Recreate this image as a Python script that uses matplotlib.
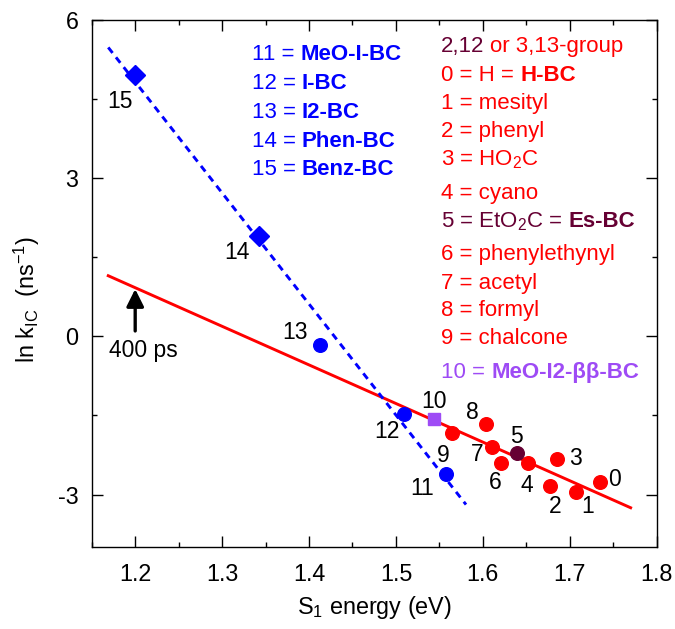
import numpy as np
import matplotlib
matplotlib.use("Agg")
import matplotlib.pyplot as plt
from matplotlib.ticker import MultipleLocator
from matplotlib.transforms import IdentityTransform

plt.rcParams['font.family'] = ['Liberation Sans', 'DejaVu Sans']
plt.rcParams['mathtext.fontset'] = 'custom'
plt.rcParams['mathtext.rm'] = 'Liberation Sans'
plt.rcParams['mathtext.it'] = 'Liberation Sans:italic'
plt.rcParams['mathtext.bf'] = 'Liberation Sans:bold'
plt.rcParams['axes.unicode_minus'] = False

# red group (0-9, 5 is dark)
red_ids = ['0', '1', '2', '3', '4', '6', '7', '8', '9']
red_x = [1.735, 1.707, 1.677, 1.685, 1.652, 1.621, 1.611, 1.6035, 1.5645]
red_y = [-2.77, -2.95, -2.84, -2.32, -2.41, -2.40, -2.09, -1.67, -1.84]
es_x, es_y = [1.639], [-2.21]
meo_x, meo_y = [1.544], [-1.576]
# blue group
blue_ids = ['11', '12', '13']
blue_x = [1.5575, 1.509, 1.4125]
blue_y = [-2.61, -1.475, -0.17]
dia_ids = ['14', '15']
dia_x = [1.343, 1.2]
dia_y = [1.90, 4.96]

# fitted lines (end points)
red_fit_x = [1.169, 1.770]
red_fit_y = [1.15, -3.25]
blue_fit_x = [1.169, 1.5806]
blue_fit_y = [5.48, -3.19]

# point labels
lab_txt = ['0', '1', '2', '3', '4', '5', '6', '7', '8', '9', '10', '11', '12', '13', '14', '15']
lab_x = [1.752, 1.721, 1.683, 1.706, 1.650, 1.639, 1.614, 1.593, 1.5875, 1.5545, 1.544,
         1.5296, 1.490, 1.384, 1.3167, 1.183]
lab_y = [-2.71, -3.22, -3.22, -2.32, -2.83, -1.89, -2.77, -2.24, -1.44, -2.26, -1.23,
         -2.89, -1.80, 0.08, 1.59, 4.45]

RED = '#ff0000'
BLUE = '#0000ff'
DARK = '#660033'
PURP = '#9e4bf5'

fig = plt.figure(figsize=(6.75, 6.29), dpi=100)
ax = fig.add_axes([0.1359, 0.1299, 0.9729 - 0.1359, 0.9682 - 0.1299])

ax.plot(red_fit_x, red_fit_y, color=RED, lw=2.1, zorder=2)
ax.plot(blue_fit_x, blue_fit_y, color=BLUE, lw=2.1, linestyle=(0, (2.4, 1.9)), zorder=2)

ax.plot(red_x, red_y, 'o', color=RED, ms=9.8, zorder=3)
ax.plot(es_x, es_y, 'o', color=DARK, ms=9.8, zorder=3)
ax.plot(meo_x, meo_y, 's', color=PURP, ms=8.6, zorder=3)
ax.plot(blue_x, blue_y, 'o', color=BLUE, ms=9.8, zorder=3)
ax.plot(dia_x, dia_y, 'D', color=BLUE, ms=10, zorder=3)

for t, x, y in zip(lab_txt, lab_x, lab_y):
    ax.text(x, y, t, fontsize=16.5, ha='center', va='center', color='black')

# 400 ps arrow
ax.annotate('', xy=(1.2, 0.95), xytext=(1.2, 0.05),
            arrowprops=dict(arrowstyle='-|>', color='black', lw=2.4, mutation_scale=26))
ax.text(1.209, -0.27, '400 ps', fontsize=16.5, ha='center', va='center')

ax.set_xlim(1.15, 1.8)
ax.set_ylim(-4, 6)
ax.xaxis.set_major_locator(MultipleLocator(0.1))
ax.xaxis.set_minor_locator(MultipleLocator(0.05))
ax.yaxis.set_major_locator(MultipleLocator(3))
ax.yaxis.set_minor_locator(MultipleLocator(1.5))
ax.tick_params(which='both', direction='in', top=True, right=True, width=1.0)
ax.tick_params(which='major', length=7.7, labelsize=16.8)
ax.tick_params(axis='x', which='major', pad=11.5)
ax.tick_params(axis='y', which='major', pad=9.6)
ax.tick_params(which='minor', length=3.8)
for s in ax.spines.values():
    s.set_linewidth(1.0)

ax.set_xlabel('S$_1$ energy (eV)', fontsize=16.8)
ax.set_ylabel(r'ln k$_{\mathrm{IC}}$  (ns$^{\mathregular{-1}}$)', fontsize=16.8)
ax.xaxis.set_label_coords(0.5, -0.088)
ax.yaxis.set_label_coords(-0.088, 0.469)

# legend-like text blocks with mixed weight / colour
fig.canvas.draw()
rend = fig.canvas.get_renderer()
H = 629
FS = 16.0


def width_of(s, w):
    t = fig.text(0, 0, s, fontsize=FS, fontweight=w)
    wd = t.get_window_extent(rend).width
    t.remove()
    return wd


space = width_of('a a', 'normal') - width_of('aa', 'normal')


def line(xpx, ypx, parts):
    x = xpx
    for s, c, w in parts:
        if s == ' ':
            x += space
            continue
        t = fig.text(x, H - ypx, s, fontsize=FS, color=c, fontweight=w,
                     ha='left', va='center_baseline', transform=IdentityTransform())
        x += t.get_window_extent(rend).width


blue_rows = [('11 =', 'MeO-I-BC', 52.5), ('12 =', 'I-BC', 81.3), ('13 =', 'I2-BC', 109.7),
             ('14 =', 'Phen-BC', 138.9), ('15 =', 'Benz-BC', 167.4)]
for a, b, y in blue_rows:
    line(251.7, y, [(a, BLUE, 'normal'), (' ', None, None), (b, BLUE, 'bold')])

X2 = 441
line(X2, 44.1, [('2,12', DARK, 'normal'), (' ', None, None), ('or 3,13-group', RED, 'normal')])
line(X2, 72.6, [('0 = H =', RED, 'normal'), (' ', None, None), ('H-BC', RED, 'bold')])
line(X2, 101.0, [('1 = mesityl', RED, 'normal')])
line(X2, 129.5, [('2 = phenyl', RED, 'normal')])
line(X2, 157.3, [('3 = HO$_2$C', RED, 'normal')])
line(X2, 190.8, [('4 = cyano', RED, 'normal')])
line(X2, 219.3, [('5 = EtO$_2$C =', DARK, 'normal'), (' ', None, None), ('Es-BC', DARK, 'bold')])
line(X2, 252.0, [('6 = phenylethynyl', RED, 'normal')])
line(X2, 280.5, [('7 = acetyl', RED, 'normal')])
line(X2, 308.0, [('8 = formyl', RED, 'normal')])
line(X2, 336.5, [('9 = chalcone', RED, 'normal')])
line(X2, 370.0, [('10 =', PURP, 'normal'), (' ', None, None), ('MeO-I2-\u03b2\u03b2-BC', PURP, 'bold')])

fig.savefig('out.png', dpi=100)
